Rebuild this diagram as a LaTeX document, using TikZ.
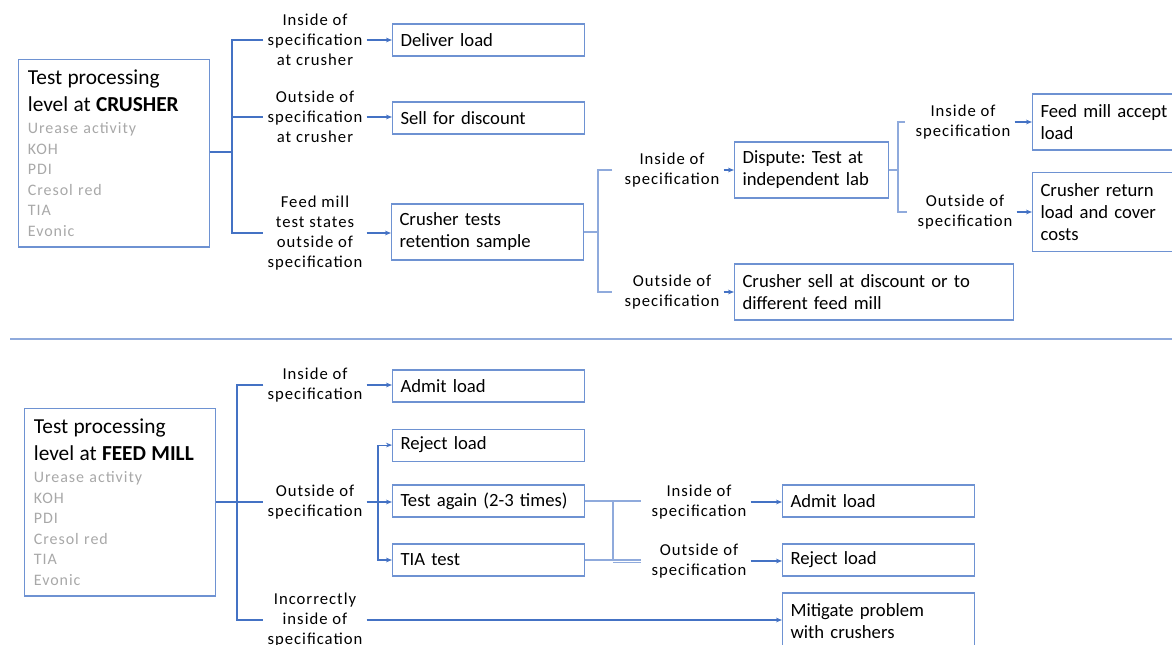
\documentclass[tikz,border=0pt]{standalone}
\usepackage{fontspec}
\setmainfont{Carlito}
\newfontfamily\spaced{Carlito}[LetterSpace=6]
\usetikzlibrary{arrows.meta,calc,positioning}
\frenchspacing

\definecolor{lineblue}{RGB}{68,114,196}
\definecolor{boxblue}{RGB}{110,146,210}
\definecolor{paleblue}{RGB}{143,170,220}
\definecolor{greytext}{RGB}{168,168,168}

\tikzset{
  box/.style={draw=boxblue, line width=0.8pt, rectangle, align=left, anchor=west,
    inner xsep=6pt, inner ysep=5pt, text width=#1, minimum height=24pt,
    font=\fontsize{14}{16.5}\selectfont},
  box/.default=132pt,
  twolines/.style={minimum height=42pt},
  threelines/.style={minimum height=59pt},
  mainbox/.style={draw=boxblue, line width=0.8pt, rectangle, align=left, anchor=north west,
    inner xsep=7pt, inner ysep=7.75pt, text width=129pt,
    font=\spaced\fontsize{12}{15.45}\selectfont},
  cond/.style={align=center, inner xsep=3pt, inner ysep=0pt,
    font=\spaced\fontsize{12.5}{15}\selectfont},
  link/.style={draw=lineblue, line width=0.8pt},
  thin link/.style={draw=paleblue, line width=0.8pt},
  arr/.style={link, -{Stealth[length=4.5pt,width=3.5pt]}}
}

\newcommand{\headtitle}[1]{{\fontsize{16}{15.45}\selectfont\normalfont Test processing\\[4.8pt]level at \textbf{#1}}\\[1.05pt]}
\newcommand{\testlist}{\color{greytext}Urease activity\\KOH\\PDI\\Cresol red\\TIA\\Evonic}

\begin{document}
\begin{tikzpicture}[x=0.75pt, y=-0.75pt]
\useasboundingbox (0,0) rectangle (1172,644);

% ---- crusher part
\node [mainbox] (crusher) at (18,59) {\headtitle{CRUSHER}\testlist};

\node [cond] (inA) at (315,40) {Inside of\\specification\\at crusher};
\node [cond] (outA) at (315,117) {Outside of\\specification\\at crusher};
\node [cond] (millA) at (315,233) {Feed mill\\test states\\outside of\\specification};

\node [box] (deliver) at (392,40) {Deliver load};
\node [box] (discount) at (392,118) {Sell for discount};
\node [box, twolines] (retest) at (391,232) {Crusher tests\\retention sample};

\coordinate (forkA) at (232,152);
\draw [link] (crusher.east |- forkA) -- (forkA);
\draw [link] (inA.west) -| (forkA) |- (millA.west);
\draw [link] (forkA |- outA.west) -- (outA.west);
\draw [arr] (inA.east) -- (inA.east -| deliver.west);
\draw [arr] (outA.east) -- (outA.east -| discount.west);
\draw [arr] (millA.east) -- (millA.east -| retest.west);

\node [cond] (inB) at (672,170) {Inside of\\specification};
\node [cond] (outB) at (672,292) {Outside of\\specification};
\node [box=103.5pt, twolines] (dispute) at (734,170) {Dispute: Test at\\independent lab};
\node [box=197pt, twolines] (resell) at (734,292) {Crusher sell at discount or to\\different feed mill};

\coordinate (forkB) at (598,232);
\draw [thin link] (retest.east) -- (forkB);
\draw [thin link] ([xshift=-6pt]inB.west) -| (forkB) |- ([xshift=-6pt]outB.west);
\draw [arr] (inB.east) -- (inB.east -| dispute.west);
\draw [arr] (outB.east) -- (outB.east -| resell.west);

\node [cond] (inC) at (963,122) {Inside of\\specification};
\node [cond] (outC) at (965,212) {Outside of\\specification};
\node [box=105pt, twolines] (accept) at (1032,122) {Feed mill accept\\load};
\node [box=105pt, threelines] (giveback) at (1032,212) {Crusher return\\load and cover\\costs};

\coordinate (forkC) at (898,170);
\draw [thin link] (dispute.east) -- (forkC);
\draw [thin link] ([xshift=-5pt]inC.west) -| (forkC) |- ([xshift=-5pt]outC.west);
\draw [arr] (inC.east) -- (inC.east -| accept.west);
\draw [arr] (outC.east) -- (outC.east -| giveback.west);

% ---- divider
\coordinate (sepL) at (10,339);
\coordinate (sepR) at (1172,339);
\draw [draw=paleblue, line width=0.8pt] (sepL) -- (sepR);

% ---- feed mill part
\node [mainbox] (mill) at (24,408) {\headtitle{FEED MILL}\testlist};

\node [cond] (inD) at (315,385) {Inside of\\specification};
\node [cond] (outD) at (315,502) {Outside of\\specification};
\node [cond] (wrongD) at (315,620) {Incorrectly\\inside of\\specification};

\node [box] (admit) at (392,386) {Admit load};
\node [box, below=19.5pt of admit.south west, anchor=north west] (reject) {Reject load};
\node [box] (again) at (392,501) {Test again (2-3 times)};
\node [box] (tia) at (392,560) {TIA test};

\coordinate (forkD) at (237,502);
\draw [link] (mill.east |- forkD) -- (forkD);
\draw [link] (inD.west) -| (forkD) |- (wrongD.west);
\draw [link] (forkD |- outD.west) -- (outD.west);
\draw [arr] (inD.east) -- (inD.east -| admit.west);

\coordinate (forkE) at (378,502);
\draw [link, line width=1.3pt] (outD.east) -- (forkE);
\draw [arr] (forkE) |- (reject.west);
\draw [arr] (forkE) -- (forkE -| again.west);
\draw [arr] (forkE) |- (tia.west);

\node [cond] (inF) at (699,502) {Inside of\\specification};
\node [cond] (outF) at (699,561) {Outside of\\specification};
\node [box] (admitF) at (782,501) {Admit load};
\node [box] (rejectF) at (782,560) {Reject load};
\node [box, twolines] (mitigate) at (782,621) {Mitigate problem\\with crushers};

\coordinate (forkF) at (613,501);
\draw [thin link] (again.east) -- ([xshift=-5pt]again.east -| inF.west);
\draw [thin link] (tia.east) -- ([xshift=-5pt]tia.east -| outF.west);
\draw [thin link] (forkF) -- (forkF |- tia.east);
\draw [thin link] ([yshift=-1.8pt]forkF |- tia.east) -- ([xshift=-5pt,yshift=-1.8pt]tia.east -| outF.west);
\draw [arr] (inF.east) -- (inF.east -| admitF.west);
\draw [arr] (outF.east) -- (outF.east -| rejectF.west);
\draw [arr] (wrongD.east) -- (wrongD.east -| mitigate.west);
\end{tikzpicture}
\end{document}
